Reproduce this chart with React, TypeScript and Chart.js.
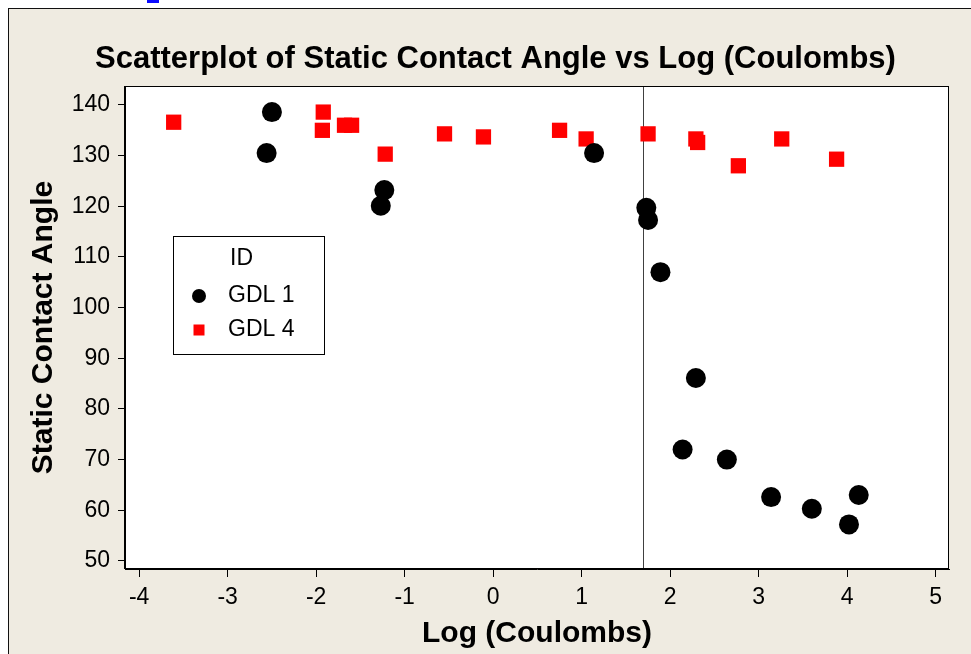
import React, { useEffect, useRef } from "react";
import { Chart, registerables } from "chart.js";

Chart.register(...registerables);

const FONT = "'Liberation Sans', Arial, Helvetica, sans-serif";

const TITLE = "Scatterplot of Static Contact Angle vs Log (Coulombs)";
const X_TITLE = "Log (Coulombs)";
const Y_TITLE = "Static Contact Angle";
const LEGEND_TITLE = "ID";
const SERIES_NAMES = ["GDL 1", "GDL 4"];

const X_TICKS = [-4, -3, -2, -1, 0, 1, 2, 3, 4, 5];
const Y_TICKS = [50, 60, 70, 80, 90, 100, 110, 120, 130, 140];

const GDL1_X = [-2.56, -2.5, -1.27, -1.23, 1.14, 1.73, 1.75, 1.89, 2.29, 2.14, 2.64, 3.14, 3.6, 4.02, 4.13];
const GDL1_Y = [130.5, 138.6, 120.1, 123.2, 130.5, 119.7, 117.3, 107.0, 86.1, 72.0, 70.0, 62.6, 60.3, 57.2, 63.0];

const GDL4_X = [-3.61, -1.92, -1.93, -1.68, -1.6, -1.22, -0.55, -0.11, 0.75, 1.05, 1.75, 2.29, 2.31, 2.77, 3.26, 3.88];
const GDL4_Y = [136.6, 138.6, 135.0, 136.0, 136.0, 130.3, 134.3, 133.7, 135.0, 133.3, 134.3, 133.3, 132.6, 128.0, 133.3, 129.3];

const REF_LINE_X = 1.69;

const BEIGE = "rgb(239,235,225)";

const toPoints = (xs: number[], ys: number[]) => xs.map((x, i) => ({ x, y: ys[i] }));

const plotPlugin = {
  id: "plotFrame",
  beforeDraw(chart: any) {
    const { ctx, chartArea: a } = chart;
    ctx.save();
    ctx.fillStyle = "#ffffff";
    ctx.fillRect(a.left, a.top, a.right - a.left, a.bottom - a.top);
    ctx.restore();
  },
  beforeDatasetsDraw(chart: any) {
    const { ctx, chartArea: a, scales } = chart;
    const px = Math.round(scales.x.getPixelForValue(REF_LINE_X)) + 0.5;
    ctx.save();
    ctx.strokeStyle = "#404040";
    ctx.lineWidth = 1;
    ctx.beginPath();
    ctx.moveTo(px, a.top);
    ctx.lineTo(px, a.bottom);
    ctx.stroke();
    ctx.restore();
  },
  afterDraw(chart: any) {
    const { ctx, chartArea: a } = chart;
    ctx.save();
    ctx.strokeStyle = "#000";
    ctx.lineWidth = 1;
    ctx.strokeRect(Math.round(a.left) - 0.5, Math.round(a.top) + 0.5, Math.round(a.right - a.left), Math.round(a.bottom - a.top) - 1);
    // boxed legend
    const x0 = a.left + 48;
    const y0 = a.top + 150;
    const w = 151;
    const h = 118;
    ctx.fillStyle = "#fff";
    ctx.fillRect(x0, y0, w, h);
    ctx.strokeRect(x0 + 0.5, y0 + 0.5, w, h);
    ctx.font = `23px ${FONT}`;
    ctx.textBaseline = "middle";
    ctx.textAlign = "left";
    ctx.fillStyle = "#000";
    ctx.fillText(LEGEND_TITLE, x0 + 57, y0 + 23);
    chart.data.datasets.forEach((ds: any, i: number) => {
      const cy = y0 + 60 + i * 34;
      const cx = x0 + 26;
      ctx.fillStyle = ds.backgroundColor;
      if (ds.pointStyle === "rect") {
        ctx.fillRect(cx - 5.5, cy - 5.5, 11, 11);
      } else {
        ctx.beginPath();
        ctx.arc(cx, cy, 7, 0, Math.PI * 2);
        ctx.fill();
      }
      ctx.fillStyle = "#000";
      ctx.fillText(ds.label, x0 + 55, cy);
    });
    ctx.restore();
  },
};

export default function App() {
  const ref = useRef<HTMLCanvasElement | null>(null);

  useEffect(() => {
    if (!ref.current) return;
    const chart = new Chart(ref.current, {
      type: "scatter",
      data: {
        datasets: [
          {
            label: SERIES_NAMES[0],
            data: toPoints(GDL1_X, GDL1_Y),
            backgroundColor: "#000000",
            borderWidth: 0,
            pointStyle: "circle",
            pointRadius: 10,
            pointHoverRadius: 10,
          },
          {
            label: SERIES_NAMES[1],
            data: toPoints(GDL4_X, GDL4_Y),
            backgroundColor: "#ff0000",
            borderWidth: 0,
            pointStyle: "rect",
            pointRadius: 10.8,
            pointHoverRadius: 10.8,
          },
        ],
      },
      options: {
        responsive: false,
        animation: false,
        events: [],
        layout: { padding: { left: 11, right: 0, top: 0, bottom: 0 } },
        plugins: {
          legend: { display: false },
          tooltip: { enabled: false },
          title: {
            display: true,
            text: TITLE,
            color: "#000",
            font: { size: 31, weight: "bold", family: FONT },
            padding: { top: 31.4, bottom: 8.4 },
          },
        },
        scales: {
          x: {
            type: "linear",
            position: "bottom",
            min: -4.16,
            max: 5.15,
            afterBuildTicks: (s: any) => {
              s.ticks = X_TICKS.map((value) => ({ value }));
            },
            afterFit: (s: any) => {
              s.height = 85;
            },
            grid: {
              display: true,
              drawOnChartArea: false,
              drawTicks: true,
              tickLength: 8,
              color: "#000",
              tickColor: "#000",
              lineWidth: 1,
            },
            border: { display: true, color: "#000", width: 1 },
            ticks: {
              color: "#000",
              font: { size: 23, family: FONT },
              padding: 6.5,
              maxRotation: 0,
              autoSkip: false,
            },
            title: {
              display: true,
              text: X_TITLE,
              color: "#000",
              font: { size: 30, weight: "bold", family: FONT },
              padding: { top: 0, bottom: 2.2 },
            },
          },
          y: {
            type: "linear",
            position: "left",
            min: 48.4,
            max: 143.75,
            afterBuildTicks: (s: any) => {
              s.ticks = Y_TICKS.map((value) => ({ value }));
            },
            afterFit: (s: any) => {
              s.width = 105;
            },
            grid: {
              display: true,
              drawOnChartArea: false,
              drawTicks: true,
              tickLength: 7,
              color: "#000",
              tickColor: "#000",
              lineWidth: 1,
            },
            border: { display: true, color: "#000", width: 1 },
            ticks: {
              color: "#000",
              font: { size: 23, family: FONT },
              padding: 8,
              autoSkip: false,
            },
            title: {
              display: true,
              text: Y_TITLE,
              color: "#000",
              font: { size: 30, weight: "bold", family: FONT },
              padding: { top: 6, bottom: 0 },
            },
          },
          y2: {
            type: "linear",
            position: "right",
            display: true,
            afterFit: (s: any) => {
              s.width = 22;
            },
            grid: { display: false },
            border: { display: false },
            ticks: { display: false },
          },
        },
      } as any,
      plugins: [plotPlugin],
    });
    return () => chart.destroy();
  }, []);

  return (
    <>
      <div
        style={{
          position: "fixed",
          left: 147,
          top: 0,
          width: 12,
          height: 3,
          background: "#0a0aff",
        }}
      />
      <div
        style={{
          position: "fixed",
          left: 8,
          top: 8,
          width: 963,
          height: 646,
          background: BEIGE,
          borderTop: "1px solid #111",
          borderLeft: "1px solid #111",
          overflow: "hidden",
        }}
      >
        <canvas ref={ref} width={962} height={645} style={{ display: "block" }} />
      </div>
    </>
  );
}
